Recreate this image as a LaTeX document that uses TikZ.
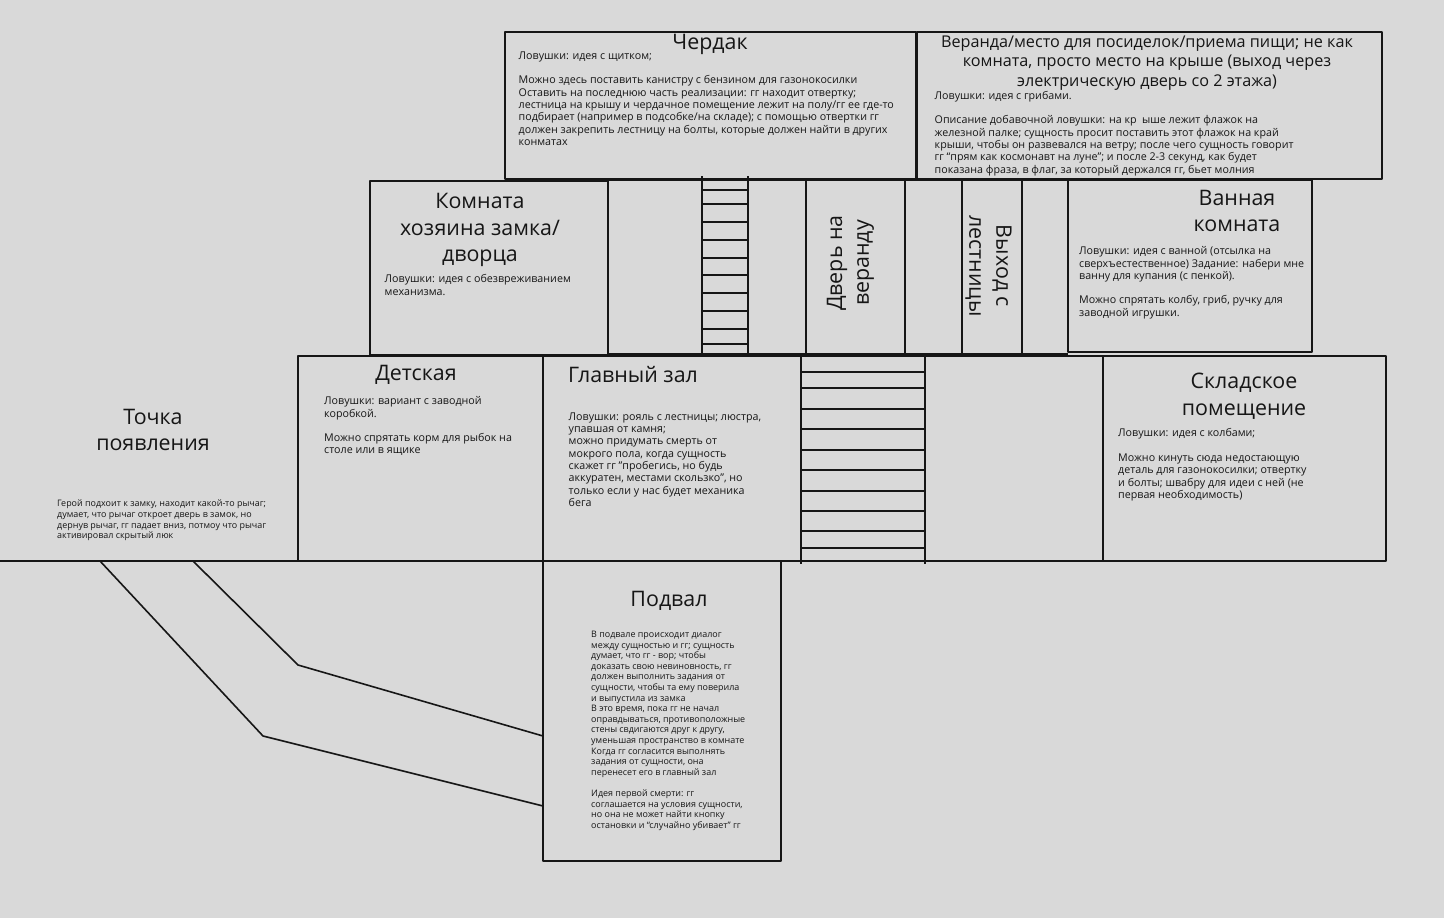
\documentclass[tikz,border=0pt]{standalone}
\usepackage{fontspec}
\setmainfont{Open Sans}
\definecolor{bgcol}{HTML}{D9D9D9}
\definecolor{inkcol}{HTML}{161616}
\tikzset{
wall/.style={line width=1.6pt,draw=inkcol},
rung/.style={line width=1.3pt,draw=inkcol},
title/.style={inner sep=0pt,align=center,text=inkcol,font=\fontsize{21.4}{26.8}\selectfont},
longtitle/.style={inner sep=0pt,align=center,text=inkcol,font=\fontsize{16.2}{19.8}\selectfont},
note/.style={inner sep=0pt,align=left,anchor=north west,text=inkcol,font=\fontsize{10.7}{12.3}\selectfont},
smallnote/.style={inner sep=0pt,align=left,anchor=north west,text=inkcol,font=\fontsize{8.95}{10.6}\selectfont}
}
\begin{document}
\begin{tikzpicture}[x=1pt,y=-1pt,line join=round]
\useasboundingbox (0,0) rectangle (1444,918);
\fill[bgcol] (0,0) rectangle (1444,918);
\path
(505,32)coordinate(A1)
(916,179)coordinate(A2)
(917,32)coordinate(V1)
(1382,179)coordinate(V2)
(370,181)coordinate(K1)
(608,355)coordinate(K2)
(806,180)coordinate(D1)
(905,354)coordinate(D2)
(1068,180)coordinate(B1)
(1312,352)coordinate(B2)
(298,356)coordinate(H1)
(1386,561)coordinate(H2)
(543,561)coordinate(P1)
(781,861)coordinate(P2);
% rooms
\draw[wall] (A1) rectangle (A2);
\draw[wall] (V1) rectangle (V2);
\draw[wall] (K1) rectangle (K2);
\draw[wall] (D1) rectangle (D2);
\draw[wall] (B1) rectangle (B2);
\draw[wall] (H1) rectangle (H2);
\draw[wall] (P1) rectangle (P2);
\draw[wall] (608,180)--(806,180) (608,354)--(806,354);
\draw[wall] (905,180)--(1068,180) (905,354)--(1068,354);
\draw[wall] (962,180)--(962,354) (1022,180)--(1022,354);
\draw[wall] (543,356)--(543,561) (1103,356)--(1103,561);
\draw[wall] (0,561)--(1386,561);
% ladders
\draw[rung] (702,176)--(702,354) (748,176)--(748,354);
\foreach \y in {190,204,222,240,258,275,293,311,329,344}
\draw[rung] (702,\y)--(748,\y);
\draw[rung] (801,356)--(801,564) (925,356)--(925,564);
\foreach \y in {372,388,409,429,450,470,491,511,531,548}
\draw[rung] (801,\y)--(925,\y);
% tunnel
\draw[wall] (100,561)--(263,736)--(543,806);
\draw[wall] (193,561)--(298,665)--(543,736);
% titles
\node[title] (tA) at (710,44) {Чердак};
\node[longtitle] (tV) at (1147,63) {Веранда/место для посиделок/приема пищи; не как\\комната, просто место на крыше (выход через\\электрическую дверь со 2 этажа)};
\node[title] (tK) at (480,230) {Комната\\хозяина замка/\\дворца};
\node[title] (tB) at (1237,211) {Ванная\\комната};
\node[title,rotate=90] (tD) at (850.5,263) {Дверь на\\веранду};
\node[title,rotate=-90] (tL) at (988.5,266) {Выход с\\лестницы};
\node[title] (tC) at (416,375) {Детская};
\node[title,anchor=west] (tH) at (568,375) {Главный зал};
\node[title] (tS) at (1244,396.5) {Складское\\помещение};
\node[title] (tT) at (153,430) {Точка\\появления};
\node[title] (tP) at (669,601) {Подвал};
% notes
\node[note] (nA) at (518.5,51.5) {Ловушки: идея с щитком;\\[12.3pt]
Можно здесь поставить канистру с бензином для газонокосилки\\
Оставить на последнюю часть реализации: гг находит отвертку;\\
лестница на крышу и чердачное помещение лежит на полу/гг ее где-то\\
подбирает (например в подсобке/на складе); с помощью отвертки гг\\
должен закрепить лестницу на болты, которые должен найти в других\\
конматах};
\node[note] (nV) at (934.5,91) {Ловушки: идея с грибами.\\[12.3pt]
Описание добавочной ловушки: на кр\ \ ыше лежит флажок на\\
железной палке; сущность просит поставить этот флажок на край\\
крыши, чтобы он развевался на ветру; после чего сущность говорит\\
гг “прям как космонавт на луне”; и после 2-3 секунд, как будет\\
показана фраза, в флаг, за который держался гг, бьет молния};
\node[note] (nK) at (384.5,274.5) {Ловушки: идея с обезвреживанием\\механизма.};
\node[note] (nB) at (1079,246.5) {Ловушки: идея с ванной (отсылка на\\
сверхъестественное) Задание: набери мне\\
ванну для купания (с пенкой).\\[12.3pt]
Можно спрятать колбу, гриб, ручку для\\
заводной игрушки.};
\node[note] (nC) at (324,396.5) {Ловушки: вариант с заводной\\коробкой.\\[12.3pt]
Можно спрятать корм для рыбок на\\столе или в ящике};
\node[note] (nH) at (568.5,412.5) {Ловушки: рояль с лестницы; люстра,\\
упавшая от камня;\\
можно придумать смерть от\\
мокрого пола, когда сущность\\
скажет гг "пробегись, но будь\\
аккуратен, местами скользко", но\\
только если у нас будет механика\\
бега};
\node[note] (nS) at (1118,428.5) {Ловушки: идея с колбами;\\[12.3pt]
Можно кинуть сюда недостающую\\
деталь для газонокосилки; отвертку\\
и болты; швабру для идеи с ней (не\\
первая необходимость)};
\node[smallnote] (nT) at (57,500) {Герой подхоит к замку, находит какой-то рычаг;\\
думает, что рычаг откроет дверь в замок, но\\
дернув рычаг, гг падает вниз, потмоу что рычаг\\
активировал скрытый люк};
\node[smallnote] (nP) at (591,631) {В подвале происходит диалог\\
между сущностью и гг; сущность\\
думает, что гг - вор; чтобы\\
доказать свою невиновность, гг\\
должен выполнить задания от\\
сущности, чтобы та ему поверила\\
и выпустила из замка\\
В это время, пока гг не начал\\
оправдываться, противоположные\\
стены свдигаются друг к другу,\\
уменьшая пространство в комнате\\
Когда гг согласится выполнять\\
задания от сущности, она\\
перенесет его в главный зал\\[10.6pt]
Идея первой смерти: гг\\
соглашается на условия сущности,\\
но она не может найти кнопку\\
остановки и “случайно убивает” гг};
\end{tikzpicture}
\end{document}
